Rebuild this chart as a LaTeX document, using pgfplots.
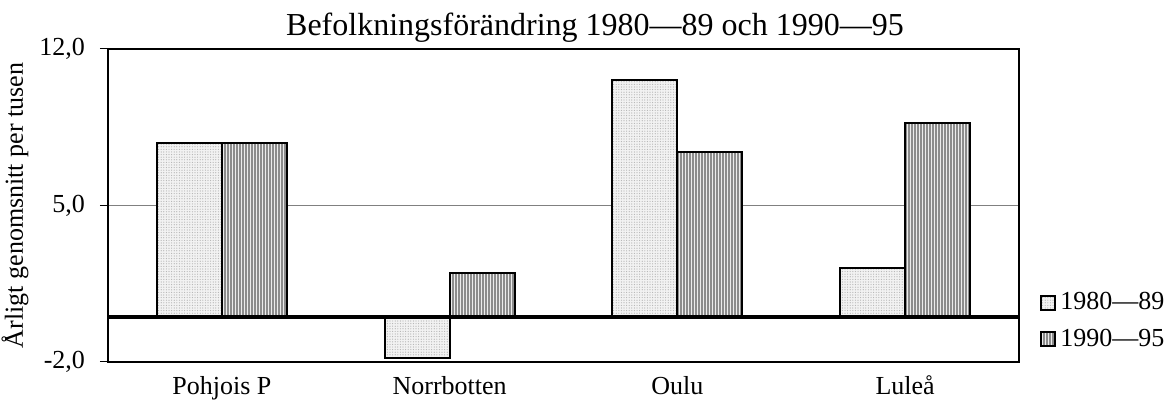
\documentclass[border=0pt]{standalone}
\usepackage{fontspec}
\setmainfont{Liberation Serif}
\usepackage{pgfplots}
\pgfplotsset{compat=1.18}
\usetikzlibrary{patterns.meta}

\begin{document}
\begin{tikzpicture}
\begin{axis}[
    scale only axis,
    width=455.5pt, height=156.5pt,
    ybar=0pt, bar width=32.5pt,
    xmin=-0.5, xmax=3.5, ymin=-2, ymax=12,
    xtick={0,1,2,3},
    xticklabels={Pohjois P, Norrbotten, Oulu, Luleå},
    xtick style={draw=none},
    ytick={-2,5,12},
    yticklabels={{-2,0},{5,0},{12,0}},
    ytick style={black, line width=0.5pt},
    tick align=outside, major tick length=4pt, tick pos=left,
    ymajorgrids, grid style={gray, line width=0.5pt},
    axis line style={line width=1pt},
    ticklabel style={font=\fontsize{13}{15}\selectfont},
    xticklabel style={anchor=base, yshift=-12pt},
    yticklabel style={xshift=-4pt},
    ylabel={Årligt genomsnitt per tusen},
    ylabel style={at={(axis description cs:-0.102,0.5)}, anchor=center,
        font=\fontsize{13}{15}\selectfont},
    title={Befolkningsförändring 1980—89 och 1990—95},
    every axis title shift=0pt,
    title style={at={(axis description cs:0.5346,1)}, anchor=base,
        yshift=6.5pt, font=\fontsize{16}{19}\selectfont},
    legend style={at={(axis description cs:1.023,0.131)}, anchor=west,
        draw=none, fill=none, font=\fontsize{13}{15}\selectfont,
        row sep=4pt, inner sep=0pt},
    legend cell align=left,
    legend image code/.code={\draw[#1] (0pt,-3.5pt) rectangle (7pt,3.5pt);},
]
\addplot[draw=black, line width=1pt, fill=gray!10,
    postaction={pattern={Dots[distance=1.3pt, radius=0.3pt]}, pattern color=gray!60}]
    coordinates {(0,7.8) (1,-1.8) (2,10.6) (3,2.2)};
\addplot[draw=black, line width=1pt, fill=gray!15,
    postaction={pattern={Lines[angle=90, distance=1.5pt, line width=0.8pt]}, pattern color=gray!90}]
    coordinates {(0,7.8) (1,2.0) (2,7.4) (3,8.7)};
\legend{1980—89, 1990—95}
\draw[line width=2pt] (axis cs:-0.5,0) -- (axis cs:3.5,0);
\coordinate (bl) at (rel axis cs:0,0);
\coordinate (tr) at (rel axis cs:1,1);
\end{axis}
\pgfresetboundingbox
\path ([shift={(-54pt,-25pt)}]bl) rectangle ([shift={(76.5pt,24.5pt)}]tr);
\end{tikzpicture}
\end{document}
